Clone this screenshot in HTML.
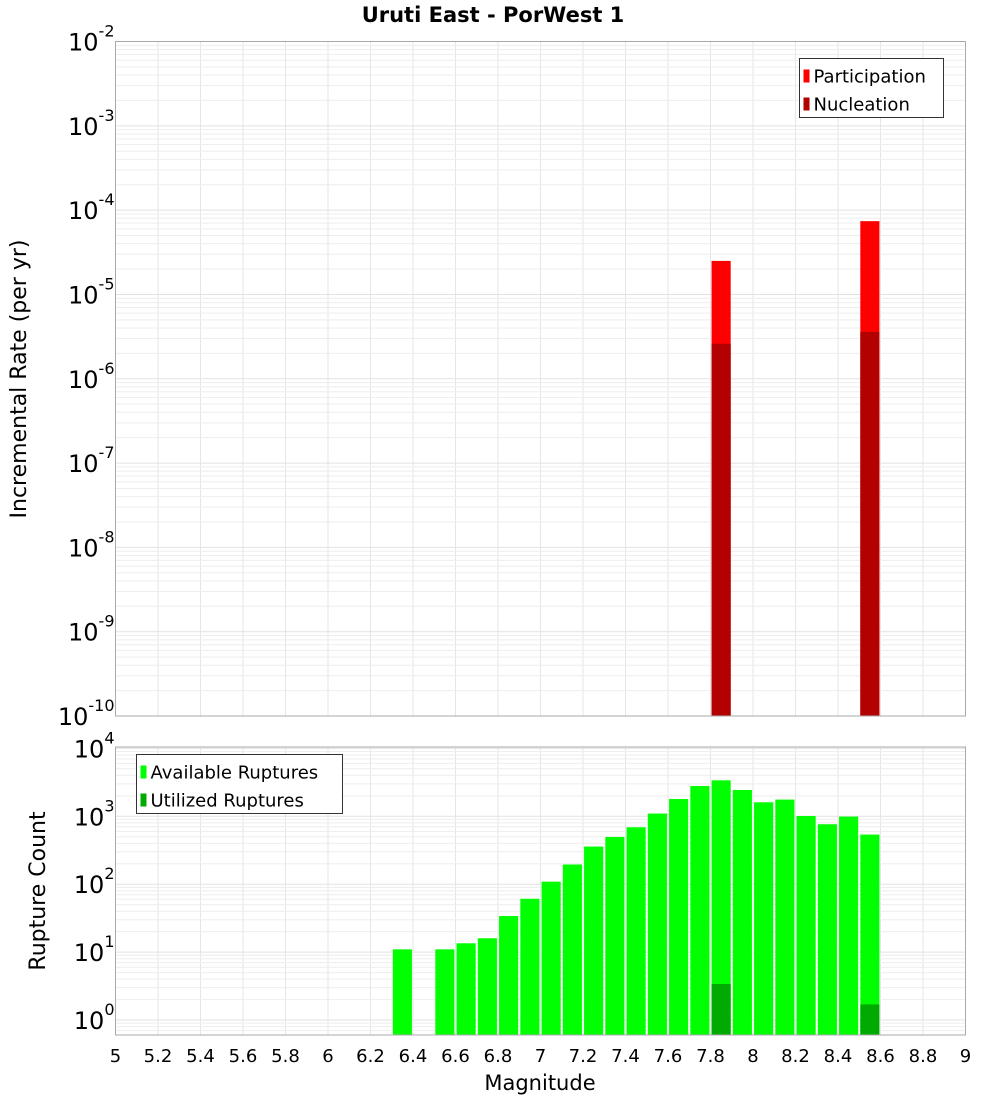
<!DOCTYPE html>
<html><head><meta charset="utf-8"><style>
body{margin:0;background:#fff;}
svg text{font-family:"DejaVu Sans","Liberation Sans",sans-serif;}
</style></head><body>
<svg id="c" width="1000" height="1100" xmlns="http://www.w3.org/2000/svg"></svg>
<script>
const mags1=[7.85,8.55];
const participation=[2.5e-5,7.4e-5];
const nucleation=[2.6e-6,3.6e-6];
const mags2=[6.35,6.55,6.65,6.75,6.85,6.95,7.05,7.15,7.25,7.35,7.45,7.55,7.65,7.75,7.85,7.95,8.05,8.15,8.25,8.35,8.45,8.55];
const available=[11,11,13.5,16,34,61,109,195,358,496,689,1097,1795,2790,3385,2437,1607,1761,1010,763,990,538];
const utilizedMags=[7.85,8.55];
const utilized=[3.4,1.7];
const xTicks=[5,5.2,5.4,5.6,5.8,6,6.2,6.4,6.6,6.8,7,7.2,7.4,7.6,7.8,8,8.2,8.4,8.6,8.8,9];
const yTicks1=[-2,-3,-4,-5,-6,-7,-8,-9,-10];
const yTicks2=[4,3,2,1,0];

const NS="http://www.w3.org/2000/svg";
const svg=document.getElementById('c');
function mk(tag,attrs,parent){const e=document.createElementNS(NS,tag);for(const k in attrs)e.setAttribute(k,attrs[k]);(parent||svg).appendChild(e);return e;}
const L=115.5,R=965.5;
const X=m=>L+(m-5)/4*(R-L);
// top plot
const T1=41.5,B1=716;
const Y1=v=>T1+(-2-Math.log10(v))*(B1-T1)/8;
// bottom plot
const T2=747,B2=1035;
const lmin2=-0.22,lmax2=4.02;
const Y2=v=>B2-(Math.log10(v)-lmin2)/(lmax2-lmin2)*(B2-T2);

function grid(T,B,lo,hi,Yf){
  const g=mk('g',{});
  
  
  for(const t of xTicks){mk('line',{x1:X(t),x2:X(t),y1:T,y2:B,stroke:'#e6e6e6','stroke-width':1},g);}
  for(let d=Math.floor(lo);d<=Math.ceil(hi);d++){for(let k=1;k<10;k++){const v=k*Math.pow(10,d);const y=Yf(v);if(y<T||y>B)continue;mk('line',{x1:L,x2:R,y1:y,y2:y,stroke:k==1?'#e2e2e2':'#eeeeee','stroke-width':1},g);}}
}
function frame(T,B,name){const r=mk('rect',{x:L,y:T,width:R-L,height:B-T,fill:'none',stroke:'#aaaaaa','stroke-width':1});}
function bar(m,v,Yf,B,color,name){const w=(X(0.09)-X(0));const y=Yf(v);const r=mk('rect',{x:X(m)-w/2,y:y,width:w,height:B-y,fill:color});}
function txt(s,x,y,size,attrs,name){const t=mk('text',Object.assign({x:x,y:y,'font-size':size,fill:'#000'},attrs||{}));t.textContent=s;return t;}
function sup(base,exp,x,y,name){const t=mk('text',{x:x,y:y,'font-size':24,'text-anchor':'end',fill:'#000'});const a=mk('tspan',{},t);a.textContent=base;const b=mk('tspan',{dy:-14,'font-size':16},t);b.textContent=exp;}

mk('rect',{x:L,y:T1,width:R-L,height:B1-T1,fill:'#fff'});
grid(T1,B1,-10,-2,Y1);
mags1.forEach((m,i)=>bar(m,participation[i],Y1,B1,'#ff0000','participation-bar'));
mags1.forEach((m,i)=>bar(m,nucleation[i],Y1,B1,'#b30000','nucleation-bar'));
frame(T1,B1,'top-plot-area');
yTicks1.forEach(e=>sup('10',String(e),L-1,Y1(Math.pow(10,e))+9,'y-tick-label'));

mk('rect',{x:L,y:T2,width:R-L,height:B2-T2,fill:'#fff'});
grid(T2,B2,lmin2,lmax2,Y2);
mags2.forEach((m,i)=>bar(m,available[i],Y2,B2,'#00ff00','available-bar'));
utilizedMags.forEach((m,i)=>bar(m,utilized[i],Y2,B2,'#00aa00','utilized-bar'));
frame(T2,B2,'bottom-plot-area');
yTicks2.forEach(e=>sup('10',String(e),L-1,Y2(Math.pow(10,e))+9,'y-tick-label'));
xTicks.forEach(t=>txt(String(t),X(t),1062,18,{'text-anchor':'middle'},'x-tick-label'));

txt('Uruti East - PorWest 1',493,22,21,{'text-anchor':'middle','font-weight':'bold'},'chart-title');
txt('Magnitude',540,1090,21,{'text-anchor':'middle'},'x-axis-title');
txt('Incremental Rate (per yr)',26,379,22,{'text-anchor':'middle',transform:'rotate(-90 26 379)'},'y-axis-title-top');
txt('Rupture Count',45,891,22,{'text-anchor':'middle',transform:'rotate(-90 45 891)'},'y-axis-title-bottom');

// legends
function legend(x,y,w,h,items,name){const g=mk('g',{});
  mk('rect',{x:x,y:y,width:w,height:h,fill:'#fff',stroke:'#333','stroke-width':1},g);
  items.forEach((it,i)=>{const yy=y+18+i*28;const r=mk('rect',{x:x+4,y:yy-7,width:6,height:13,fill:it[1]},g);
  const t=mk('text',{x:x+14,y:yy+6,'font-size':18,fill:'#000'},g);t.textContent=it[0];});}
legend(799.5,58.5,144,59,[['Participation','#ff0000'],['Nucleation','#b30000']],'legend-top');
legend(136.5,754.5,206,59,[['Available Ruptures','#00ff00'],['Utilized Ruptures','#00aa00']],'legend-bottom');
</script>
</body></html>
